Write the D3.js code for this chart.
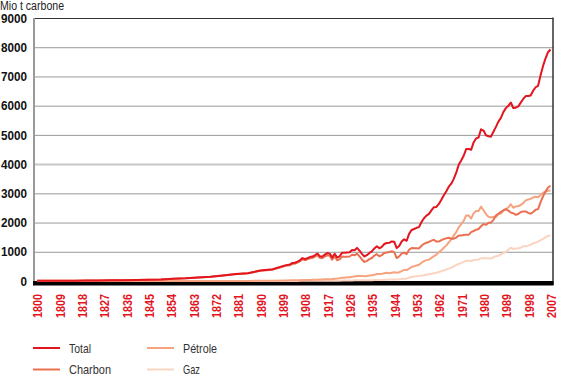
<!DOCTYPE html>
<html lang="fr">
<head>
<meta charset="UTF-8">
<title>Emissions de carbone</title>
<script src="https://d3js.org/d3.v7.min.js"></script>
<style>
    body { margin: 0; background: #fff; }
    svg text { font-family: "Liberation Sans", Arial, sans-serif; }
</style>
</head>
<body>
<script>
    const width = 580
    const height = 376
    const plotLeft = 34, plotRight = 553, plotTop = 18, plotBottom = 281

    // years: every 5 years before 1900, then every year
    const years = d3.range(1800, 1900, 5).concat(d3.range(1900, 2008))

    const total = [8, 9, 10, 12, 14, 17, 24, 29, 33, 45, 54, 75, 91, 120, 147, 188, 236, 268, 356, 400,
        534, 552, 566, 617, 624, 663, 707, 784, 750, 785,
        819, 836, 879, 943, 850, 838, 901, 955, 936, 806,
        932, 803, 845, 970, 963, 975, 983, 1062, 1055, 1133,
        1040, 930, 840, 885, 960, 1015, 1115, 1190, 1120, 1170,
        1265, 1300, 1305, 1355, 1345, 1125, 1200, 1350, 1425, 1375,
        1613, 1747, 1779, 1820, 1844, 2017, 2148, 2237, 2295, 2417,
        2525, 2535, 2638, 2780, 2936, 3071, 3226, 3329, 3496, 3706,
        3975, 4125, 4287, 4515, 4515, 4489, 4742, 4879, 4911, 5192,
        5147, 4988, 4954, 4940, 5106, 5273, 5456, 5581, 5779, 5916,
        5996, 6108, 5919, 5930, 5973, 6105, 6230, 6330, 6330, 6350,
        6510, 6630, 6680, 7040, 7360, 7620, 7830, 7920]

    const charbon = [8, 9, 10, 12, 14, 17, 24, 29, 33, 45, 54, 75, 91, 119, 146, 186, 233, 263, 347, 388,
        513, 529, 541, 590, 594, 632, 674, 747, 711, 743,
        775, 790, 830, 890, 794, 780, 837, 884, 865, 729,
        842, 707, 738, 841, 833, 834, 838, 897, 878, 938,
        840, 736, 652, 687, 750, 788, 870, 917, 847, 885,
        955, 975, 990, 1020, 990, 785, 840, 940, 970, 920,
        1070, 1129, 1119, 1125, 1116, 1208, 1273, 1309, 1336, 1382,
        1410, 1349, 1351, 1396, 1435, 1460, 1478, 1448, 1448, 1486,
        1556, 1559, 1576, 1581, 1579, 1673, 1710, 1756, 1780, 1872,
        1947, 1921, 1992, 1995, 2094, 2237, 2300, 2364, 2414, 2457,
        2409, 2341, 2318, 2265, 2295, 2364, 2376, 2380, 2330, 2300,
        2360, 2440, 2460, 2700, 2900, 3060, 3200, 3260]

    const petrole = [0, 0, 0, 0, 0, 0, 0, 0, 0, 0, 0, 0, 0, 1, 1, 2, 3, 4, 6, 9,
        18, 20, 22, 23, 26, 27, 28, 32, 34, 36,
        38, 40, 42, 46, 48, 50, 56, 62, 62, 68,
        80, 85, 95, 115, 115, 125, 128, 145, 155, 170,
        175, 170, 165, 175, 185, 200, 215, 240, 240, 250,
        265, 280, 265, 280, 300, 285, 300, 340, 380, 375,
        423, 479, 504, 533, 557, 625, 679, 714, 731, 789,
        849, 904, 980, 1052, 1137, 1219, 1323, 1423, 1551, 1673,
        1839, 1947, 2057, 2241, 2245, 2132, 2314, 2398, 2392, 2544,
        2422, 2289, 2196, 2176, 2199, 2186, 2293, 2306, 2412, 2459,
        2517, 2627, 2506, 2555, 2558, 2601, 2664, 2760, 2790, 2810,
        2860, 2880, 2870, 2940, 3020, 3060, 3090, 3100]

    const gaz = [0, 0, 0, 0, 0, 0, 0, 0, 0, 0, 0, 0, 0, 0, 0, 0, 0, 1, 3, 3,
        3, 3, 3, 4, 4, 4, 5, 5, 5, 6,
        6, 6, 7, 7, 8, 8, 8, 9, 9, 9,
        10, 11, 12, 14, 15, 16, 17, 20, 22, 25,
        25, 24, 23, 23, 25, 27, 30, 33, 33, 35,
        45, 45, 50, 55, 55, 55, 60, 70, 75, 80,
        120, 139, 156, 162, 171, 184, 196, 214, 228, 246,
        266, 282, 307, 332, 364, 392, 425, 458, 497, 547,
        580, 619, 654, 693, 691, 684, 718, 725, 739, 776,
        778, 778, 766, 769, 813, 850, 863, 911, 953, 1000,
        1070, 1140, 1095, 1110, 1120, 1140, 1190, 1190, 1210, 1240,
        1290, 1310, 1350, 1400, 1440, 1500, 1540, 1560]

    const seriesNames = ['Total', 'Charbon', 'Pétrole', 'Gaz']
    const seriesValues = [total, charbon, petrole, gaz]
    const colors = ['#e3151f', '#ea7052', '#f5a47f', '#fbd4c1']
    const yTicks = [0, 1000, 2000, 3000, 4000, 5000, 6000, 7000, 8000, 9000]
    const xTicks = d3.range(1800, 2008, 9)

    // the original uses a condensed face: squeeze the text to that width.
    // anchored at its start so the browser places it right
    function condense(sel, perChar, endAt) {
        sel.each(function () {
            var w = this.textContent.length * perChar
            d3.select(this)
                .attr("text-anchor", "start")
                .attr("x", endAt - w)
                .attr("textLength", w)
                .attr("lengthAdjust", "spacingAndGlyphs")
        })
    }

    var svg = d3.select("body")
        .append("svg")
        .attr("width", width)
        .attr("height", height)

    var xScale = d3.scaleLinear()
        .domain([1800, 2007])
        .range([37, 550.5])
    var yScale = d3.scaleLinear()
        .domain([0, 9000])
        .range([plotBottom, plotTop])

    svg.append("text")
        .text("Mio t carbone")
        .attr("x", 0)
        .attr("y", 10)
        .attr("font-size", 12)
        .attr("fill", "#222")
        .attr("textLength", 64)
        .attr("lengthAdjust", "spacingAndGlyphs")

    // y axis + gridlines
    var yAxis = d3.axisLeft(yScale)
        .tickValues(yTicks)
        .tickFormat(d3.format("d"))
        .tickSize(-(plotRight - plotLeft))
        .tickPadding(7)
    var gy = svg.append("g")
        .attr("transform", "translate(" + plotLeft + ",0)")
        .call(yAxis)
    gy.select(".domain").remove()
    gy.selectAll(".tick line")
        .attr("stroke", function (d) {
            if (d == 9000) return "#333"
            if (d == 4000) return "#c8c8c8"
            return "#999"
        })
        .attr("stroke-width", function (d) { return d == 4000 ? 2 : 1 })
        .attr("display", function (d) { return d == 0 ? "none" : null })
    gy.selectAll(".tick text")
        .attr("font-size", 13)
        .attr("font-weight", "bold")
        .attr("fill", "#111")
        .attr("font-family", null)
        .call(condense, 6.5, -7)

    // frame
    svg.append("line")
        .attr("x1", plotLeft).attr("x2", plotLeft)
        .attr("y1", plotTop).attr("y2", plotBottom + 4)
        .attr("stroke", "#999").attr("stroke-width", 2)
    svg.append("line")
        .attr("x1", plotRight).attr("x2", plotRight)
        .attr("y1", plotTop - 0.5).attr("y2", plotBottom + 4)
        .attr("stroke", "#333").attr("stroke-width", 1.5)
    svg.append("rect")
        .attr("x", plotLeft - 1)
        .attr("y", yScale(0))
        .attr("width", plotRight - plotLeft + 1.5)
        .attr("height", 4.5)
        .attr("fill", "#000")

    // x axis labels, rotated, reading upwards
    var xAxis = d3.axisBottom(xScale)
        .tickValues(xTicks)
        .tickSize(0)
        .tickFormat(d3.format("d"))
    var gx = svg.append("g")
        .attr("transform", "translate(0,294)")
        .call(xAxis)
    gx.select(".domain").remove()
    gx.selectAll(".tick text")
        .attr("y", 0)
        .attr("dy", "0.36em")
        .attr("transform", "rotate(-90)")
        .attr("font-size", 13.5)
        .attr("font-weight", "bold")
        .attr("fill", "#e3151f")
        .attr("font-family", null)
        .call(condense, 6, 0)

    // lines, drawn lightest first
    var line = d3.line()
        .x(function (d, i) { return xScale(years[i]) })
        .y(function (d) { return yScale(d) })
    for (var j = seriesValues.length - 1; j >= 0; j--) {
        svg.append("path")
            .attr("d", line(seriesValues[j]))
            .attr("fill", "none")
            .attr("stroke", colors[j])
            .attr("stroke-width", 2)
            .attr("stroke-linejoin", "round")
    }

    // legend
    const legendWidths = [22, 42, 34, 17]
    var legend = svg.append("g")
    seriesNames.forEach(function (name, i) {
        var lx = i < 2 ? 33 : 147
        var ly = i % 2 == 0 ? 348 : 369.5
        legend.append("line")
            .attr("x1", lx).attr("x2", lx + 27)
            .attr("y1", ly).attr("y2", ly)
            .attr("stroke", colors[i])
            .attr("stroke-width", 2)
        legend.append("text")
            .text(name)
            .attr("x", lx + 36)
            .attr("y", ly)
            .attr("dy", "0.35em")
            .attr("font-size", 13)
            .attr("fill", "#333")
            .attr("textLength", legendWidths[i])
            .attr("lengthAdjust", "spacingAndGlyphs")
    })
</script>
</body>
</html>
